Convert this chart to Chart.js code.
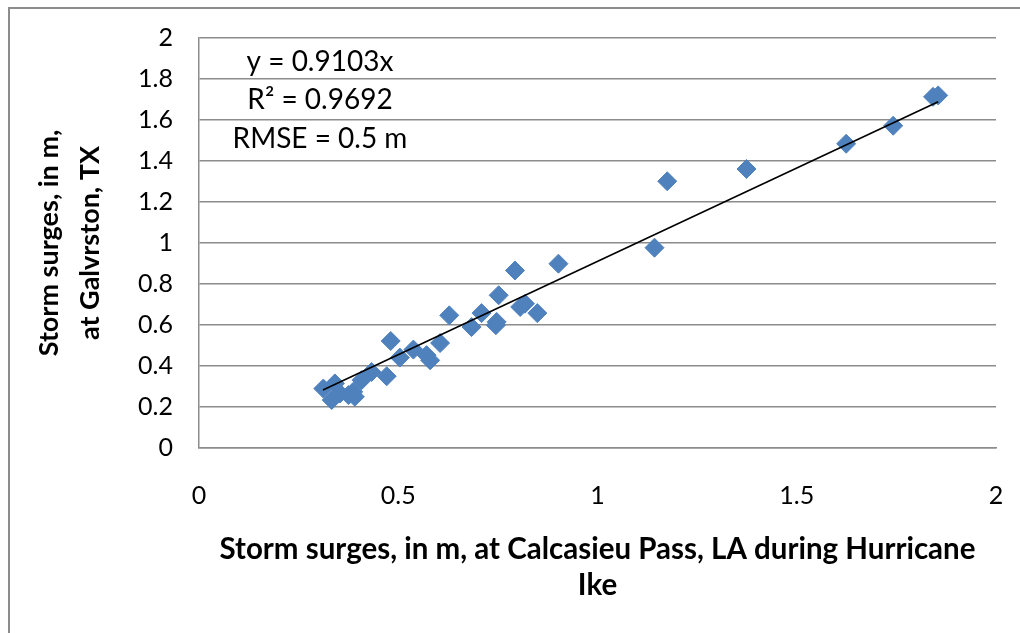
<!DOCTYPE html>
<html lang="en">
<head>
  <meta charset="UTF-8">
  <title>Storm surges during Hurricane Ike</title>
  <script src="https://cdn.jsdelivr.net/npm/chart.js"></script>
  <style>
    body {
      margin: 0;
      background: #fff;
    }
    .wrap {
      position: relative;
      width: 1020px;
      height: 633px;
      overflow: hidden;
    }
    .frame {
      position: absolute;
      left: 8px;
      top: 7px;
      width: 1100px;
      height: 700px;
      border-left: 2px solid #8c8c8c;
      border-top: 2px solid #8c8c8c;
    }
    canvas {
      position: absolute;
      left: 0;
      top: 0;
    }
  </style>
</head>
<body>

<div class="wrap">
  <div class="frame"></div>
  <canvas id="chart" width="1020" height="633"></canvas>
</div>

<script>
// surge at Calcasieu Pass, LA (x) vs Galveston, TX (y), metres
const calcasieu = [0.312, 0.333, 0.341, 0.354, 0.375, 0.387, 0.391, 0.408, 0.433, 0.471,
                   0.481, 0.504, 0.538, 0.571, 0.580, 0.605, 0.628, 0.684, 0.709, 0.745,
                   0.747, 0.752, 0.793, 0.806, 0.818, 0.849, 0.902, 1.143, 1.175, 1.374,
                   1.624, 1.742, 1.842, 1.855];
const galveston = [0.290, 0.234, 0.315, 0.266, 0.258, 0.274, 0.250, 0.331, 0.371, 0.350,
                   0.522, 0.441, 0.480, 0.453, 0.428, 0.512, 0.647, 0.590, 0.658, 0.599,
                   0.615, 0.745, 0.866, 0.688, 0.704, 0.658, 0.899, 0.977, 1.301, 1.361,
                   1.484, 1.572, 1.713, 1.720];

// fitted line y = 0.9103x, end points
const trendX = [0.311, 1.855];
const trendY = [0.283, 1.689];

const xTicks = [0, 0.5, 1, 1.5, 2];
const yTicks = [0, 0.2, 0.4, 0.6, 0.8, 1, 1.2, 1.4, 1.6, 1.8, 2];
const fitLabels = ['y = 0.9103x', 'R\u00b2 = 0.9692', 'RMSE = 0.5 m'];

const FONT = "Lato, 'Liberation Sans', sans-serif";
const GRID = '#8c8c8c';
const NONE = 'rgba(0,0,0,0)';

const points = calcasieu.map((x, i) => ({ x, y: galveston[i] }));
const trend = trendX.map((x, i) => ({ x, y: trendY[i] }));

// equation box in the upper left of the plot
const fitText = {
  id: 'fitText',
  afterDraw(chart) {
    const ctx = chart.ctx;
    ctx.save();
    ctx.fillStyle = '#000';
    ctx.font = '28px ' + FONT;
    ctx.textAlign = 'center';
    ctx.textBaseline = 'middle';
    const ys = [62, 100, 139];
    fitLabels.forEach((t, i) => ctx.fillText(t, 320, ys[i]));
    ctx.restore();
  }
};

new Chart(document.getElementById('chart'), {
  type: 'scatter',
  data: {
    datasets: [
      {
        type: 'line',
        data: trend,
        borderColor: '#000',
        borderWidth: 1.6,
        pointRadius: 0,
        fill: false
      },
      {
        data: points,
        pointStyle: 'rectRot',
        pointRadius: 9.5,
        pointHoverRadius: 9.5,
        backgroundColor: '#4f81bd',
        borderColor: '#4f81bd',
        borderWidth: 1
      }
    ]
  },
  options: {
    responsive: false,
    animation: false,
    layout: { padding: { left: 10, top: 38, right: 24, bottom: 0 } },
    plugins: {
      legend: { display: false },
      tooltip: { enabled: false }
    },
    scales: {
      x: {
        type: 'linear',
        min: 0,
        max: 2,
        afterBuildTicks: s => { s.ticks = xTicks.map(v => ({ value: v })); },
        afterFit: s => { s.height = 185; },
        // tick marks are hidden; tickLength only pushes the labels down
        grid: { display: false, drawTicks: true, tickLength: 29 },
        border: { display: true, color: GRID, width: 1.5 },
        ticks: {
          padding: 4,
          color: '#000',
          font: { family: FONT, size: 25 },
          maxRotation: 0,
          callback: v => String(v)
        },
        title: {
          display: true,
          text: ['Storm surges, in m, at Calcasieu Pass, LA during Hurricane', 'Ike'],
          color: '#000',
          font: { family: FONT, size: 29.5, weight: 'bold', lineHeight: 1.2 },
          padding: { top: 0, bottom: 30 }
        }
      },
      y: {
        min: 0,
        max: 2,
        afterBuildTicks: s => { s.ticks = yTicks.map(v => ({ value: v })); },
        afterFit: s => { s.width = 189; },
        grid: { color: GRID, lineWidth: 1.5, drawTicks: true, tickLength: 22, tickColor: NONE },
        border: { display: true, color: GRID, width: 1.5 },
        ticks: {
          padding: 4,
          color: '#000',
          font: { family: FONT, size: 25 },
          callback: v => String(v)
        },
        title: {
          display: true,
          text: ['Storm surges, in m,', 'at Galvrston, TX'],
          color: '#000',
          font: { family: FONT, size: 27, weight: 'bold', lineHeight: 1.52 },
          padding: { top: 19, bottom: 0 }
        }
      }
    }
  },
  plugins: [fitText]
});
</script>

</body>
</html>
